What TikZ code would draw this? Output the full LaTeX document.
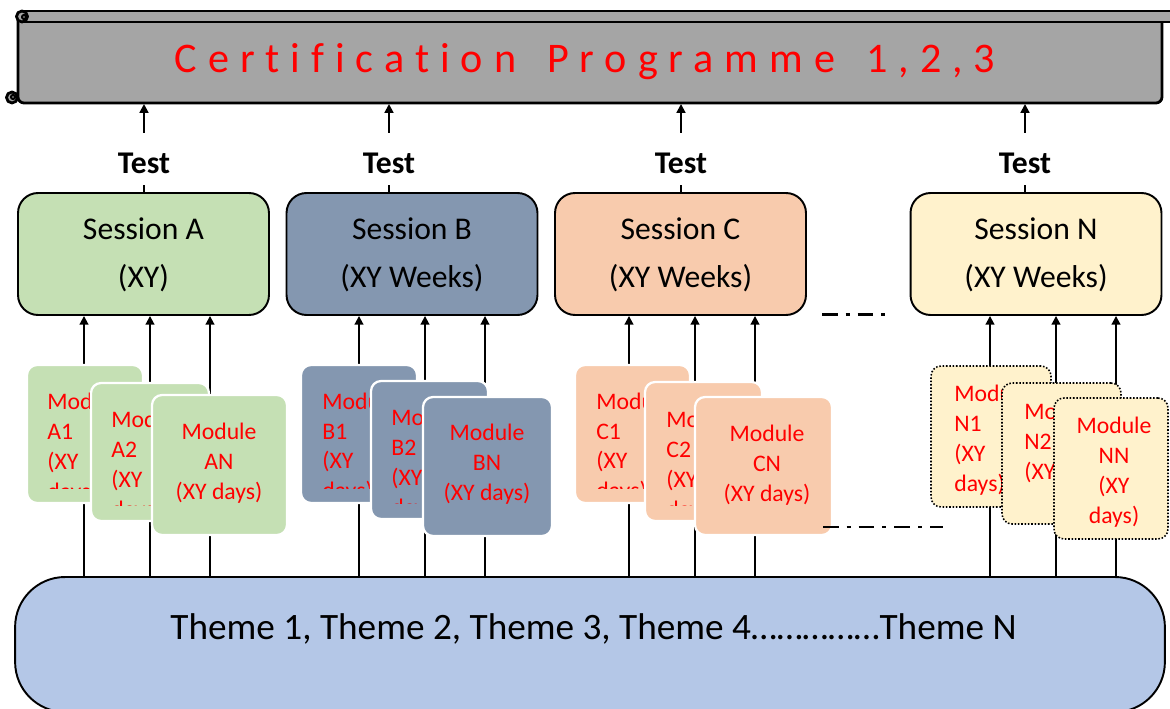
\documentclass[tikz,border=0pt]{standalone}
\usepackage{fontspec}
\setmainfont{Carlito}
\newfontfamily\titlefont{Carlito}[LetterSpace=26,Ligatures=NoCommon]
\usetikzlibrary{arrows.meta}
\definecolor{bannergray}{HTML}{A5A5A5}
\definecolor{sgreen}{HTML}{C5E0B4}
\definecolor{sblue}{HTML}{8497B0}
\definecolor{speach}{HTML}{F8CBAD}
\definecolor{syellow}{HTML}{FFF2CC}
\definecolor{themeblue}{HTML}{B4C7E7}
\definecolor{modred}{HTML}{FF0000}
\begin{document}
\begin{tikzpicture}[x=0.02cm,y=-0.02cm,line join=round,
 conn/.style={line width=1.1pt,-{Triangle[length=5pt,width=5pt]}},
 plain/.style={line width=1.1pt},
 bannerline/.style={line width=1.6pt,draw=black,fill=bannergray},
 sessbox/.style={draw=black,line width=1.1pt,rounded corners=0.4cm,minimum width=5.02cm,minimum height=2.44cm,inner sep=0,align=center,font=\fontsize{18}{27}\selectfont},
 card/.style={draw=white,line width=1.3pt,rounded corners=0.2cm,inner sep=0},
 cardN/.style={draw=black,line width=0.9pt,densely dotted,rounded corners=0.2cm,inner sep=0,fill=syellow},
 modl/.style={text=modred,font=\fontsize{13.5}{17}\selectfont,inner sep=0,anchor=north west,align=left},
 modc/.style={text=modred,font=\fontsize{13.5}{17}\selectfont,inner sep=0,anchor=north,align=center},
 testlbl/.style={font=\fontsize{18}{18}\selectfont\bfseries,inner sep=0,text height=0.81cm,text depth=0.23cm,anchor=base},
 dashdot/.style={line width=1.7pt,dash pattern=on 9pt off 4.5pt on 2.3pt off 4.5pt},
]
\useasboundingbox (0,0) rectangle (1170,709);
\clip (0,0) rectangle (1170,709);

% ---------- banner (scroll) ----------
\draw[bannerline,rounded corners=0.12cm] (18,20) -- (18,103) -- (1162,103) -- (1162,20);
\filldraw[bannerline] (22,11) -- (1180,11) -- (1180,22) -- (22,22);
\filldraw[bannerline] (22,16.5) circle[radius=5.5];
\draw[line width=1.2pt] (24,17) circle[radius=2];
\filldraw[bannerline] (12,97.5) circle[radius=5.5];
\draw[line width=1.2pt] (13,97) circle[radius=2];
\coordinate (bb) at (0,104);
\node[anchor=base,inner sep=0,text=modred,font=\fontsize{24}{24}\titlefont] (title) at (585,73) {Certification\hspace{6pt} Programme\hspace{6pt} 1,2,3};

% ---------- theme ----------
\node[draw=black,line width=1.1pt,fill=themeblue,rounded corners=1cm,minimum width=23cm,minimum height=2.7cm,inner sep=0] (theme) at (590,644.5) {};
\node[anchor=base,inner sep=0,font=\fontsize{21.2}{21.2}\selectfont] (themetxt) at (593.5,639) {Theme 1, Theme 2, Theme 3, Theme 4……………Theme N};

% ---------- sessions ----------
\node[sessbox,fill=sgreen] (sA) at (143.5,254) {\strut Session A\\(XY)\strut};
\node[sessbox,fill=sblue] (sB) at (412,254) {\strut Session B\\(XY Weeks)\strut};
\node[sessbox,fill=speach] (sC) at (680.5,254) {\strut Session C\\(XY Weeks)\strut};
\node[sessbox,fill=syellow] (sN) at (1036,254) {\strut Session N\\(XY Weeks)\strut};

% ---------- tests ----------
\node[testlbl] (tA) at (144,173.5) {Test};
\node[testlbl] (tB) at (389,173.5) {Test};
\node[testlbl] (tC) at (681,173.5) {Test};
\node[testlbl] (tN) at (1025,173.5) {Test};
\foreach \t/\s in {tA/sA,tB/sB,tC/sC,tN/sN}{
  \draw[plain] (\t.south) -- (\t.south |- \s.north);
  \draw[conn] (\t.north) -- (\t.north |- bb);
}

% ---------- connectors theme -> sessions ----------
\foreach \s/\xa/\xb/\xc in {sA/84/150/210,sB/359/425/485,sC/629/695/755,sN/990/1056/1116}{
  \foreach \xx in {\xa,\xb,\xc}{
    \coordinate (c\s\xx) at (\xx,0);
    \draw[conn] (theme.north -| c\s\xx) -- (\s.south -| c\s\xx);
  }
}

% ---------- module cards A ----------
\node[card,fill=sgreen,minimum width=2.32cm,minimum height=2.76cm] (mA1) at (85,434) {};
\begin{scope}\clip (27,365) rectangle (143,488);
\node[modl] (tmA1) at (47,388.6) {\strut Module\\A1\\(XY\\days)};
\end{scope}
\node[card,fill=sgreen,minimum width=2.36cm,minimum height=2.76cm] (mA2) at (150,452) {};
\begin{scope}\clip (91,383) rectangle (209,505);
\node[modl] (tmA2) at (111,406.6) {\strut Module\\A2\\(XY\\days)};
\end{scope}
\node[card,fill=sgreen,minimum width=2.70cm,minimum height=2.80cm] (mAN) at (219.5,465) {};
\node[modc] (tmAN) at (219,418.6) {\strut Module\\AN\\(XY days)};

% ---------- module cards B ----------
\node[card,fill=sblue,minimum width=2.32cm,minimum height=2.76cm] (mB1) at (359,434) {};
\begin{scope}\clip (301,365) rectangle (417,488);
\node[modl] (tmB1) at (322,388) {\strut Module\\B1\\(XY\\days)};
\end{scope}
\node[card,fill=sblue,minimum width=2.34cm,minimum height=2.76cm] (mB2) at (429.5,450) {};
\begin{scope}\clip (371,381) rectangle (488,503);
\node[modl] (tmB2) at (391,404.6) {\strut Module\\B2\\(XY\\days)};
\end{scope}
\node[card,fill=sblue,minimum width=2.58cm,minimum height=2.78cm] (mBN) at (487.5,466.5) {};
\node[modc] (tmBN) at (487,419.6) {\strut Module\\BN\\(XY days)};

% ---------- module cards C ----------
\node[card,fill=speach,minimum width=2.30cm,minimum height=2.76cm] (mC1) at (632.5,434) {};
\begin{scope}\clip (575,365) rectangle (690,488);
\node[modl] (tmC1) at (596,388) {\strut Module\\C1\\(XY\\days)};
\end{scope}
\node[card,fill=speach,minimum width=2.34cm,minimum height=2.78cm] (mC2) at (703.5,451.5) {};
\begin{scope}\clip (645,382) rectangle (762,505);
\node[modl] (tmC2) at (666,406.6) {\strut Module\\C2\\(XY\\days)};
\end{scope}
\node[card,fill=speach,minimum width=2.74cm,minimum height=2.76cm] (mCN) at (763.5,466) {};
\node[modc] (tmCN) at (767,420.6) {\strut Module\\CN\\(XY days)};

% ---------- module cards N ----------
\node[cardN,minimum width=2.40cm,minimum height=2.82cm] (mN1) at (991,436.5) {};
\node[modl] (tmN1) at (954,380.6) {\strut Module\\N1\\(XY\\days)};
\node[cardN,minimum width=2.38cm,minimum height=2.82cm] (mN2) at (1061.5,453.5) {};
\begin{scope}\clip (1002,383) rectangle (1054,490);
\node[modl] (tmN2) at (1024,398.6) {\strut Module\\N2\\(XY\\days)};
\end{scope}
\node[cardN,minimum width=2.28cm,minimum height=2.82cm] (mNN) at (1111,468.5) {};
\node[modc] (tmNN) at (1114,412.6) {\strut Module\\NN\\(XY\\days)};

% ---------- ellipsis lines ----------
\draw[dashdot] (822,314.5) -- (886,314.5);
\draw[dashdot] (823,527) -- (943,527);
\end{tikzpicture}
\end{document}
